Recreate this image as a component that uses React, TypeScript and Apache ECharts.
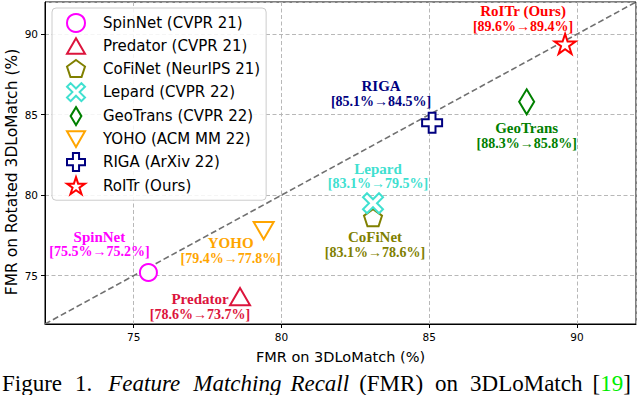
import React, { useEffect, useRef } from "react";
import * as echarts from "echarts";

// ---- data ----
const methods = ["SpinNet", "Predator", "CoFiNet", "Lepard", "GeoTrans", "YOHO", "RIGA", "RoITr"];
const venues = ["CVPR 21", "CVPR 21", "NeurIPS 21", "CVPR 22", "CVPR 22", "ACM MM 22", "ArXiv 22", "Ours"];
const labelNames = ["SpinNet", "Predator", "CoFiNet", "Lepard", "GeoTrans", "YOHO", "RIGA", "RoITr (Ours)"];
const fmr3DLoMatch = [75.5, 78.6, 83.1, 83.1, 88.3, 79.4, 85.1, 89.6];
const fmrRotated = [75.2, 73.7, 78.6, 79.5, 85.8, 77.8, 84.5, 89.4];
const axisRange = [72, 92];
const diagonal = [
  [72, 72],
  [92, 92],
];
const captionWords = ["Figure", "1.", "Feature", "Matching", "Recall", "(FMR)", "on", "3DLoMatch", "[", "19", "]"];

// ---- styles ----
const colors = ["#ff00ff", "#dc143c", "#808000", "#40e0d0", "#008000", "#ffa500", "#000080", "#ff0000"];
const symbols = [
  "circle",
  "path://M50,0 L100,87 L0,87 Z",
  "path://M50,0 L97.6,34.5 L79.4,90.5 L20.6,90.5 L2.4,34.5 Z",
  "path://M20,0 L50,30 L80,0 L100,20 L70,50 L100,80 L80,100 L50,70 L20,100 L0,80 L30,50 L0,20 Z",
  "path://M30,0 L60,50 L30,100 L0,50 Z",
  "path://M0,0 L100,0 L50,87 Z",
  "path://M33,0 L67,0 L67,33 L100,33 L100,67 L67,67 L67,100 L33,100 L33,67 L0,67 L0,33 L33,33 Z",
  "path://M50,0 L61.23,34.55 L97.55,34.55 L68.16,55.9 L79.39,90.45 L50,69.1 L20.61,90.45 L31.84,55.9 L2.45,34.55 L38.77,34.55 Z",
];
const symbolSizes = [17, 20, 18, 20, 25, 20, 20, 21];
const labelOffsets = [
  [-49, -28],
  [-40, 10],
  [2, 27],
  [5, -27],
  [0, 34],
  [-33, 20],
  [-51, -29],
  [-42, -25],
];

export default function App() {
  const ref = useRef<HTMLDivElement>(null);
  useEffect(() => {
    if (!ref.current) return;
    const chart = echarts.init(ref.current, undefined, { renderer: "svg" });
    const legendNames = methods.map((m, i) => `${m} (${venues[i]})`);
    const scatterSeries = methods.map((m, i) => ({
      type: "scatter",
      name: legendNames[i],
      data: [[fmr3DLoMatch[i], fmrRotated[i]]],
      symbol: symbols[i],
      symbolSize: symbolSizes[i],
      symbolKeepAspect: true,
      z: 3,
      itemStyle: { color: "#ffffff", borderColor: colors[i], borderWidth: 2, opacity: 1 },
      label: {
        show: true,
        position: "inside",
        offset: labelOffsets[i],
        formatter: `{n|${labelNames[i]}}\n{v|[${fmr3DLoMatch[i].toFixed(1)}%→${fmrRotated[i].toFixed(1)}%]}`,
        color: colors[i],
        fontFamily: "Liberation Serif",
        fontWeight: "bold",
        fontSize: 14,
        lineHeight: 15,
        align: "center",
        verticalAlign: "middle",
        rich: {
          n: {
            fontFamily: "Liberation Serif",
            fontWeight: "bold",
            fontSize: 15,
            lineHeight: 15,
            color: colors[i],
            align: "center",
          },
          v: {
            fontFamily: "Liberation Serif",
            fontWeight: "bold",
            fontSize: 14,
            lineHeight: 15,
            color: colors[i],
            align: "center",
          },
        },
      },
      emphasis: { disabled: true },
    }));
    const axisCommon = {
      type: "value",
      min: axisRange[0],
      max: axisRange[1],
      nameLocation: "middle",
      nameMoveOverlap: false,
      axisLine: { show: true, onZero: false, lineStyle: { color: "#000", width: 1 } },
      axisTick: { show: true, length: 4, lineStyle: { color: "#000" } },
      axisLabel: {
        showMinLabel: false,
        showMaxLabel: false,
        color: "#000",
        fontFamily: "DejaVu Sans",
        fontSize: 10.5,
        margin: 7,
      },
      splitLine: { show: true, lineStyle: { color: "#b8b8b8", width: 1, type: [4, 2.5] } },
    };
    // caption built as rich text with LaTeX-like stretched spaces
    const gaps = [13, 16, 13, 9, 10, 12, 12, 10];
    const gapRich: Record<string, any> = {};
    gaps.forEach((g, i) => {
      gapRich["s" + i] = { width: g, fontSize: 23, fontFamily: "Liberation Serif" };
    });
    const w = captionWords;
    const caption =
      `${w[0]}{s0| }${w[1]}{s1| }{i|${w[2]}}{s2| }{i|${w[3]}}{s3| }{i|${w[4]}}{s4| }` +
      `${w[5]}{s5| }${w[6]}{s6| }${w[7]}{s7| }${w[8]}{g|${w[9]}}${w[10]}`;
    chart.setOption({
      animation: false,
      backgroundColor: "#ffffff",
      grid: {
        left: 45,
        right: 4,
        top: 2,
        bottom: 71,
        show: true,
        containLabel: false,
        outerBoundsMode: "none",
        borderColor: "#000",
        borderWidth: 1,
        backgroundColor: "transparent",
      },
      xAxis: {
        ...axisCommon,
        name: "FMR on 3DLoMatch (%)",
        nameGap: 25,
        nameTextStyle: { fontFamily: "DejaVu Sans", fontSize: 14.5, color: "#000" },
      },
      yAxis: {
        ...axisCommon,
        name: "FMR on Rotated 3DLoMatch (%)",
        nameGap: 25,
        nameTextStyle: { fontFamily: "DejaVu Sans", fontSize: 15.5, color: "#000", padding: [0, 18, 0, 0] },
      },
      legend: {
        data: legendNames,
        orient: "vertical",
        left: 52,
        top: 8,
        itemWidth: 18,
        itemHeight: 18,
        itemGap: 4,
        padding: [5, 6, 5, 14],
        backgroundColor: "rgba(255,255,255,0.85)",
        borderColor: "#cccccc",
        borderWidth: 1,
        borderRadius: 4,
        selectedMode: false,
        textStyle: {
          fontFamily: "DejaVu Sans",
          fontSize: 15,
          lineHeight: 18,
          color: "#000",
          padding: [0, 0, 0, 13],
        },
      },
      series: [
        {
          type: "line",
          data: diagonal,
          symbol: "none",
          silent: true,
          z: 1,
          lineStyle: { color: "#707070", width: 1.6, type: [6, 3] },
        },
        ...scatterSeries,
      ],
      graphic: [
        {
          type: "text",
          x: 2,
          y: 383,
          style: {
            text: caption,
            fontFamily: "Liberation Serif",
            fontSize: 23,
            fill: "#000",
            verticalAlign: "middle",
            rich: {
              ...gapRich,
              i: { fontFamily: "Liberation Serif", fontSize: 23, fontStyle: "italic", fill: "#000" },
              g: { fontFamily: "Liberation Serif", fontSize: 23, fill: "#00ee00" },
            },
          },
        },
      ],
    });
    return () => chart.dispose();
  }, []);
  return (
    <div
      ref={ref}
      style={{ position: "fixed", left: 0, top: 0, width: 640, height: 395, background: "#fff" }}
    />
  );
}
